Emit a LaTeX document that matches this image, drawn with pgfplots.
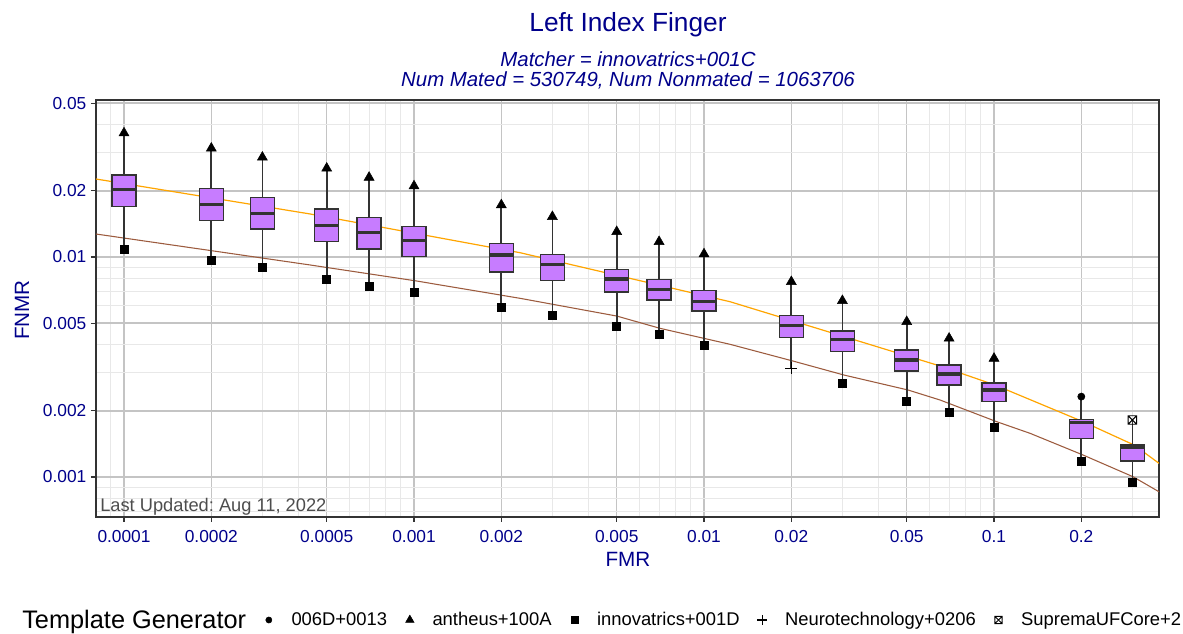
\documentclass[border=0pt]{standalone}
\usepackage{fontspec}
\setmainfont{Liberation Sans}
\usepackage{pgfplots}
\pgfplotsset{compat=1.18}
\definecolor{navyt}{HTML}{00008B}
\definecolor{boxfill}{HTML}{C77CFF}
\definecolor{boxdraw}{HTML}{333333}
\definecolor{orangeline}{HTML}{FFA500}
\definecolor{brownline}{HTML}{9C5B3E}
\definecolor{majgrid}{HTML}{C4C4C4}
\definecolor{mingrid}{HTML}{E8E8E8}
\definecolor{annot}{HTML}{4D4D4D}
\frenchspacing

\pgfdeclareplotmark{boxx}{%
 \pgfpathrectangle{\pgfqpoint{-\pgfplotmarksize}{-\pgfplotmarksize}}{\pgfqpoint{2\pgfplotmarksize}{2\pgfplotmarksize}}%
 \pgfpathmoveto{\pgfqpoint{-\pgfplotmarksize}{-\pgfplotmarksize}}\pgfpathlineto{\pgfqpoint{\pgfplotmarksize}{\pgfplotmarksize}}%
 \pgfpathmoveto{\pgfqpoint{-\pgfplotmarksize}{\pgfplotmarksize}}\pgfpathlineto{\pgfqpoint{\pgfplotmarksize}{-\pgfplotmarksize}}%
 \pgfusepathqstroke}

% box: position, lower whisker, Q1, median, Q3, upper whisker
\newcommand{\bx}[6]{%
  \pgfmathsetmacro\xl{#1-0.0415}\pgfmathsetmacro\xr{#1+0.0415}%
  \edef\temp{\noexpand\addplot[forget plot, draw=boxdraw, line width=1.3pt] coordinates {(#1,#2) (#1,#6)};
  \noexpand\addplot[forget plot, fill=boxfill, draw=boxdraw, line width=1.1pt, line join=miter] coordinates {(\xl,#3) (\xr,#3) (\xr,#5) (\xl,#5)} -- cycle;
  \noexpand\addplot[forget plot, draw=boxdraw, line width=2.5pt] coordinates {(\xl,#4) (\xr,#4)};}%
  \temp}

\begin{document}
\begin{tikzpicture}
\begin{axis}[
  name=ax,
  scale only axis, width=797.25pt, height=312.75pt,
  xmin=-4.0966, xmax=-0.4311,
  ymode=log, ymin=0.000658, ymax=0.0517,
  xtick={-4,-3.69897,-3.30103,-3,-2.69897,-2.30103,-2,-1.69897,-1.30103,-1,-0.69897},
  xticklabels={0.0001,0.0002,0.0005,0.001,0.002,0.005,0.01,0.02,0.05,0.1,0.2},
  minor xtick={-4.04576,-3.52288,-3.39794,-3.22185,-3.15490,-3.09691,-3.04576,
    -2.52288,-2.39794,-2.22185,-2.15490,-2.09691,-2.04576,
    -1.52288,-1.39794,-1.22185,-1.15490,-1.09691,-1.04576,-0.52288},
  ytick={0.001,0.002,0.005,0.01,0.02,0.05},
  yticklabels={0.001,0.002,0.005,0.01,0.02,0.05},
  minor ytick={0.0007,0.0008,0.0009,0.003,0.004,0.006,0.007,0.008,0.009,0.03,0.04},
  grid=both,
  major grid style={draw=majgrid, line width=1.1pt},
  minor grid style={draw=mingrid, line width=0.7pt},
  axis line style={draw=boxdraw, line width=0.9pt},
  tick align=outside, xtick pos=left, ytick pos=left,
  major tick length=3.75pt, minor tick length=0pt,
  tick style={draw=boxdraw, line width=0.8pt},
  xticklabel style={font=\fontsize{13}{15}\selectfont, text=navyt, yshift=-2.6pt},
  yticklabel style={font=\fontsize{13}{15}\selectfont, text=navyt},
  legend columns=-1,
  legend style={at={(axis description cs:-0.0696,-0.247)}, anchor=west,
    draw=none, fill=none, inner sep=0pt, column sep=0pt,
    nodes={inner xsep=0pt, text=black, font=\fontsize{13.8}{16}\selectfont}},
  legend image code/.code={\draw[every mark/.append style={scale=0.85}] plot coordinates {(0pt,0pt)}; \path[draw=none] (-17pt,0pt) -- (17pt,0pt);},
]
% reference lines
\addplot[forget plot, draw=orangeline, line width=0.9pt] coordinates {
(-4.0966,0.02262) (-3.3586,0.01569) (-2.6345,0.01046) (-1.9103,0.006263)
(-1.1862,0.003196) (-0.9966,0.002619) (-0.6931,0.001784) (-0.5172,0.001398) (-0.4311,0.001154)};
\addplot[forget plot, draw=brownline, line width=0.8pt] coordinates {
(-4.0966,0.01272) (-3.6976,0.01068) (-3.3586,0.00920) (-2.9966,0.00780) (-2.6345,0.00649)
(-2.3010,0.00539) (-2.1517,0.00474) (-1.9103,0.00401) (-1.6931,0.003366) (-1.5172,0.002907)
(-1.2966,0.002486) (-1.1862,0.002239) (-0.9907,0.001784) (-0.8759,0.001580) (-0.6931,0.001259)
(-0.5207,0.001003) (-0.4311,0.000857)};
\bx{-4}{0.01087}{0.01693}{0.0202}{0.0236}{0.0366}
\bx{-3.69897}{0.00969}{0.01462}{0.01736}{0.02053}{0.0312}
\bx{-3.52288}{0.00894}{0.01341}{0.0158}{0.01868}{0.02839}
\bx{-3.30103}{0.00794}{0.01174}{0.01388}{0.01653}{0.0253}
\bx{-3.15490}{0.00738}{0.01087}{0.0129}{0.0151}{0.0230}
\bx{-3}{0.00688}{0.01003}{0.01186}{0.01374}{0.02102}
\bx{-2.69897}{0.00594}{0.00855}{0.01021}{0.01154}{0.01724}
\bx{-2.52288}{0.00545}{0.0078}{0.00923}{0.01028}{0.01525}
\bx{-2.30103}{0.00486}{0.00693}{0.00794}{0.00879}{0.01303}
\bx{-2.15490}{0.00447}{0.00638}{0.00713}{0.00792}{0.01174}
\bx{-2}{0.00398}{0.00568}{0.00626}{0.00703}{0.01032}
\bx{-1.69897}{0.00312}{0.0043}{0.00487}{0.00541}{0.00772}
\bx{-1.52288}{0.00267}{0.00371}{0.00423}{0.00462}{0.00633}
\bx{-1.30103}{0.0022}{0.00304}{0.0034}{0.00378}{0.00508}
\bx{-1.15490}{0.00196}{0.00262}{0.00294}{0.00323}{0.00427}
\bx{-1}{0.00169}{0.0022}{0.00249}{0.00268}{0.00346}
\bx{-0.69897}{0.001174}{0.0015}{0.00177}{0.00183}{0.00232}
\bx{-0.52288}{0.000946}{0.001183}{0.001365}{0.001398}{0.001816}
% legend title
\addlegendimage{empty legend}
\addlegendentry{\fontsize{19}{22}\selectfont Template Generator}
% points
\addplot[only marks, mark=*, mark size=2.7pt, black] coordinates {(-0.69897,0.00232)};
\addlegendentry{006D+0013}
\addplot[only marks, mark=triangle*, mark size=4.3pt, black] coordinates {
(-4,0.0366) (-3.69897,0.0312) (-3.52288,0.02839) (-3.30103,0.0253) (-3.15490,0.0230)
(-3,0.02102) (-2.69897,0.01724) (-2.52288,0.01525) (-2.30103,0.01303) (-2.15490,0.01174)
(-2,0.01032) (-1.69897,0.00772) (-1.52288,0.00633) (-1.30103,0.00508) (-1.15490,0.00427) (-1,0.00346)};
\addlegendentry{antheus+100A}
\addplot[only marks, mark=square*, mark size=3pt, black] coordinates {
(-4,0.01087) (-3.69897,0.00969) (-3.52288,0.00894) (-3.30103,0.00794) (-3.15490,0.00738)
(-3,0.00688) (-2.69897,0.00594) (-2.52288,0.00545) (-2.30103,0.00486) (-2.15490,0.00447)
(-2,0.00398) (-1.52288,0.00267) (-1.30103,0.0022) (-1.15490,0.00196) (-1,0.00169)
(-0.69897,0.001174) (-0.52288,0.000946)};
\addlegendentry{innovatrics+001D}
\addplot[only marks, mark=+, mark size=4.5pt, line width=0.8pt, black] coordinates {(-1.69897,0.00312)};
\addlegendentry{Neurotechnology+0206}
\addplot[only marks, mark=boxx, mark size=3.2pt, line width=0.7pt, black, fill=white] coordinates {(-0.52288,0.001816)};
\addlegendentry{SupremaUFCore+2}
\end{axis}
\node[anchor=base, text=navyt, font=\fontsize{19.7}{23}\selectfont] at (399pt,363.75pt) {Left Index Finger};
\node[anchor=base, text=navyt, font=\fontsize{15.3}{18}\selectfont\itshape] at (399pt,337.5pt) {Matcher = innovatrics+001C};
\node[anchor=base, text=navyt, font=\fontsize{15.3}{18}\selectfont\itshape] at (399pt,322.5pt) {Num Mated = 530749, Num Nonmated = 1063706};
\node[anchor=base, text=navyt, font=\fontsize{15.5}{18}\selectfont] at (399pt,-36.75pt) {FMR};
\node[anchor=center, rotate=90, text=navyt, font=\fontsize{15.5}{18}\selectfont] at (-55.5pt,155.25pt) {FNMR};
\node[anchor=base west, inner sep=0pt, text=annot, font=\fontsize{13.7}{16}\selectfont] at (3pt,4.5pt) {Last Updated: Aug 11, 2022};
\pgfresetboundingbox
\path[use as bounding box] (-72pt,-87pt) rectangle (815.25pt,387.75pt);
\end{tikzpicture}
\end{document}
